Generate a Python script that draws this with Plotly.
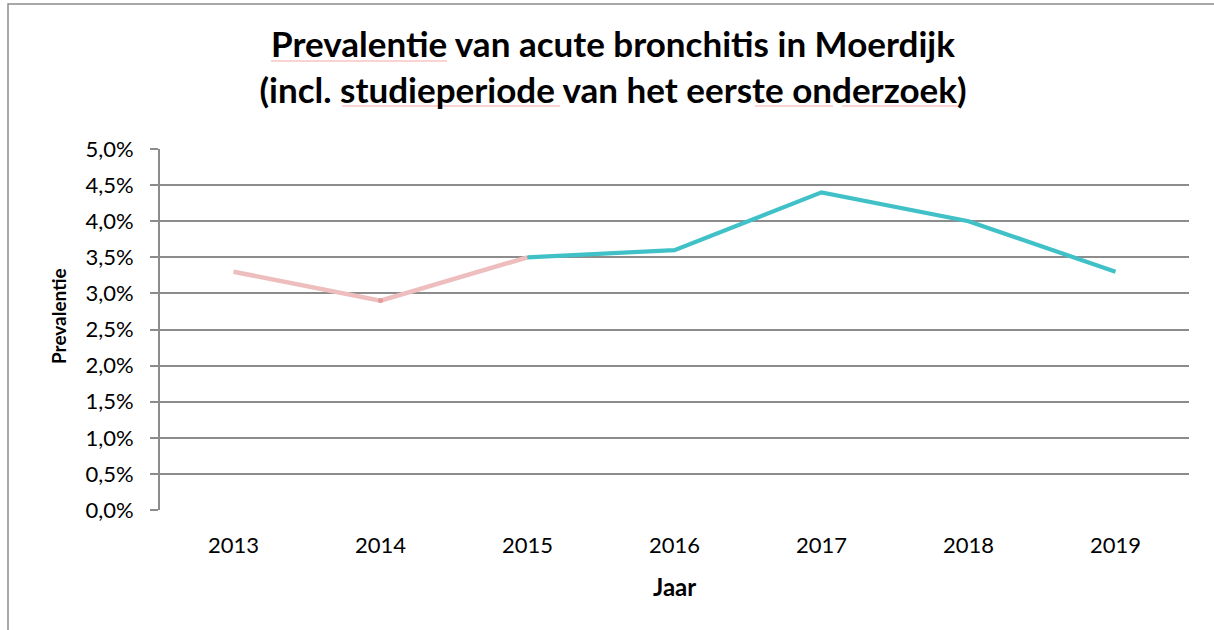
import plotly.graph_objects as go

years = ["2013", "2014", "2015", "2016", "2017", "2018", "2019"]
first_study = [0.033, 0.029, 0.035, None, None, None, None]
second_study = [None, None, 0.035, 0.036, 0.044, 0.040, 0.033]
y_ticks = [0, 0.005, 0.01, 0.015, 0.02, 0.025, 0.03, 0.035, 0.04, 0.045, 0.05]

title_line1 = "Prevalentie van acute bronchitis in Moerdijk"
title_line2 = "(incl. studieperiode van het eerste onderzoek)"
x_title = "Jaar"
y_title = "Prevalentie"

W, H = 1214, 630
L, R, T, B = 160, 25, 149, 120
pw, ph = W - L - R, H - T - B

def px(x):
    return (x - L) / pw

def py(y):
    return (H - B - y) / ph

font = "Lato, Calibri, Carlito, sans-serif"
grid = "#8C8C8C"

fig = go.Figure()
fig.add_trace(go.Scatter(x=years, y=first_study, mode="lines",
                         line=dict(color="#EEBEBE", width=4.5), connectgaps=False,
                         showlegend=False, hoverinfo="x+y"))
fig.add_trace(go.Scatter(x=[years[1]], y=[first_study[1]], mode="markers",
                         marker=dict(color="#E49A9A", size=5), showlegend=False,
                         hoverinfo="skip"))
fig.add_trace(go.Scatter(x=years, y=second_study, mode="lines",
                         line=dict(color="#40C1C7", width=4.2), connectgaps=False,
                         showlegend=False, hoverinfo="x+y"))

fig.update_layout(
    width=W, height=H,
    margin=dict(l=L, r=R, t=T, b=B),
    paper_bgcolor="white", plot_bgcolor="white",
    separators=",.",
    font=dict(family=font, color="black"),
    title=dict(text="<b>" + title_line1 + "<br>" + title_line2 + "</b>",
               x=613 / W, xanchor="center", y=1 - 57 / H, yanchor="middle",
               font=dict(size=35, family=font, color="black")),
    xaxis=dict(type="category", range=[-0.5, 6.5], showgrid=False,
               showline=False, ticks="", tickfont=dict(size=22),
               ticklabelstandoff=20, fixedrange=True),
    yaxis=dict(range=[0, 0.05], tickvals=y_ticks, tickformat=".1%",
               showgrid=True, gridcolor=grid, gridwidth=1.8,
               showline=True, linecolor=grid, linewidth=1.8,
               ticks="outside", ticklen=8, tickcolor=grid, tickwidth=1.8,
               tickfont=dict(size=22), ticklabelstandoff=12, zeroline=False,
               fixedrange=True),
    annotations=[
        dict(text="<b>" + x_title + "</b>", xref="paper", yref="paper",
             x=px(674), y=py(586), xanchor="center", yanchor="middle",
             showarrow=False, font=dict(size=24, family=font, color="black")),
        dict(text="<b>" + y_title + "</b>", xref="paper", yref="paper",
             x=px(58), y=py(316), xanchor="center", yanchor="middle",
             textangle=-90, showarrow=False,
             font=dict(size=19, family=font, color="black")),
    ],
)

# outer chart border (cut off on right and bottom)
fig.add_shape(type="rect", xref="paper", yref="paper",
              x0=px(8), x1=px(1260), y0=py(680), y1=py(4),
              line=dict(color=grid, width=1.5), fillcolor="rgba(0,0,0,0)", layer="below")

# spell-check underlines in the title (as in the reference screenshot)
for x0, x1, yy in [(271, 447, 61), (342, 560, 106), (755, 833, 106), (842, 958, 106)]:
    fig.add_shape(type="line", xref="paper", yref="paper",
                  x0=px(x0), x1=px(x1), y0=py(yy), y1=py(yy),
                  line=dict(color="#F4A6A6", width=1))

fig.write_html("out.html", config={"displayModeBar": False},
               post_script="document.body.style.margin='0';")
